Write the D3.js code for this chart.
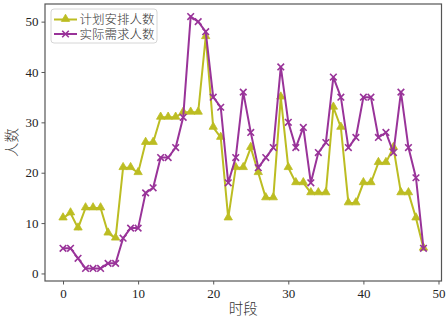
<!DOCTYPE html>
<html>
<head>
<meta charset="utf-8">
<script src="https://cdn.jsdelivr.net/npm/d3@7"></script>
<style>
  body { margin: 0; background: #fff; }
  svg text { font-family: "Liberation Serif", "Noto Sans CJK SC", serif; }
  .cjk { font-weight: 300; }
</style>
</head>
<body>
<script>
// data
var periods = d3.range(0, 49);
var planned = [11, 12, 9, 13, 13, 13, 8, 7, 21, 21, 20, 26, 26, 31, 31, 31, 32, 32, 32, 47,
               29, 27, 11, 21, 21, 25, 20, 15, 15, 35, 21, 18, 18, 16, 16, 16, 33, 29, 14, 14,
               18, 18, 22, 22, 25, 16, 16, 11, 5];
var demand = [5, 5, 3, 1, 1, 1, 2, 2, 7, 9, 9, 16, 17, 23, 23, 25, 31, 51, 50, 48,
              35, 33, 18, 23, 36, 28, 21, 23, 25, 41, 30, 25, 29, 18, 24, 26, 39, 35, 25, 27,
              35, 35, 27, 28, 24, 36, 25, 19, 5];
var xTicks = [0, 10, 20, 30, 40, 50];
var yTicks = [0, 10, 20, 30, 40, 50];
var seriesNames = ["计划安排人数", "实际需求人数"];

// margins
var W = 448, H = 320;
var MARGINS = {left: 45, right: 6.5, top: 4, bottom: 39};
var width = W - MARGINS.left - MARGINS.right;
var height = H - MARGINS.top - MARGINS.bottom;

var yellow = "#bcbd22", purple = "#993399";

// scales
var xScale = d3.scaleLinear().domain([-2.4, 50.4]).range([0, width]);
var yScale = d3.scaleLinear().domain([-1.5, 53.5]).range([height, 0]);

var svg = d3.select("body").append("svg")
    .attr("width", W)
    .attr("height", H)
    .append("g")
    .attr("transform", "translate(" + MARGINS.left + "," + MARGINS.top + ")");

// axes
var xAxis = svg.append("g")
    .attr("transform", "translate(0," + height + ")")
    .call(d3.axisBottom(xScale).tickValues(xTicks).tickSizeOuter(0).tickSize(3.5).tickPadding(4));
var yAxis = svg.append("g")
    .call(d3.axisLeft(yScale).tickValues(yTicks).tickSizeOuter(0).tickSize(3.5).tickPadding(3));
[xAxis, yAxis].forEach(function (a) {
    a.select(".domain").remove();
    a.selectAll("line").attr("stroke", "#444").attr("stroke-width", 0.9);
    a.selectAll("text").attr("fill", "#222").style("font-size", "13px");
});

// frame
svg.append("rect")
    .attr("width", width).attr("height", height)
    .attr("fill", "none").attr("stroke", "#555").attr("stroke-width", 1.2);

// lines
function drawSeries(values, color, marker) {
    var pts = periods.map(function (p, i) { return {x: p, y: values[i]}; });
    var line = d3.line().x(function (d) { return xScale(d.x); })
        .y(function (d) { return yScale(d.y); });
    svg.append("path").datum(pts).attr("d", line)
        .attr("fill", "none").attr("stroke", color).attr("stroke-width", 2);
    var g = svg.append("g");
    pts.forEach(function (d) {
        drawMarker(g, xScale(d.x), yScale(d.y), color, marker);
    });
}

function drawMarker(g, cx, cy, color, marker) {
    if (marker === "tri") {
        g.append("path")
            .attr("d", d3.symbol().type(d3.symbolTriangle).size(30)())
            .attr("transform", "translate(" + cx + "," + (cy - 0.5) + ")")
            .attr("fill", color).attr("stroke", color).attr("stroke-width", 0.8);
    } else {
        var s = 3.3;
        g.append("path")
            .attr("d", "M" + (cx - s) + "," + (cy - s) + "L" + (cx + s) + "," + (cy + s) +
                "M" + (cx - s) + "," + (cy + s) + "L" + (cx + s) + "," + (cy - s))
            .attr("stroke", color).attr("stroke-width", 1.6);
    }
}

drawSeries(planned, yellow, "tri");
drawSeries(demand, purple, "x");

// axis labels
svg.append("text").attr("class", "cjk")
    .attr("x", width / 2).attr("y", height + 33)
    .attr("text-anchor", "middle").style("font-size", "14.5px").attr("fill", "#333")
    .text("时段");
svg.append("text").attr("class", "cjk")
    .attr("transform", "translate(" + (-28) + "," + (height / 2) + ") rotate(-90)")
    .attr("text-anchor", "middle").style("font-size", "14.5px").attr("fill", "#333")
    .text("人数");

// legend
var legend = svg.append("g").attr("transform", "translate(6,5)");
legend.append("rect")
    .attr("width", 106).attr("height", 34).attr("rx", 3)
    .attr("fill", "#fff").attr("fill-opacity", 0.8)
    .attr("stroke", "#ccc").attr("stroke-width", 0.8);
[yellow, purple].forEach(function (c, i) {
    var y = 10.5 + i * 14.5;
    legend.append("line").attr("x1", 3).attr("x2", 26).attr("y1", y).attr("y2", y)
        .attr("stroke", c).attr("stroke-width", 2);
    drawMarker(legend, 14.5, y, c, i === 0 ? "tri" : "x");
    legend.append("text").attr("class", "cjk").attr("x", 28.5).attr("y", y + 4.5)
        .style("font-size", "12.5px").attr("fill", "#333")
        .text(seriesNames[i]);
});
</script>
</body>
</html>
